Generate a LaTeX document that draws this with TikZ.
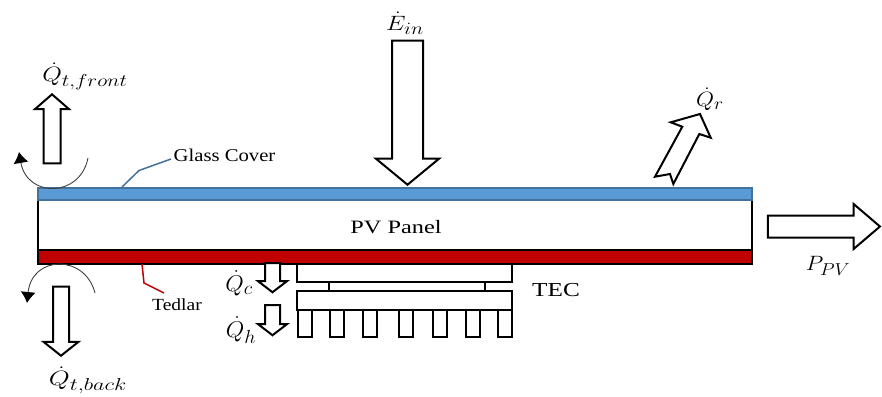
\documentclass[tikz,border=0pt]{standalone}
\usepackage{amsmath}
\usepackage{fontspec}
\setmainfont{Liberation Serif}
\usetikzlibrary{shapes.arrows,arrows.meta}
\DeclareMathSizes{20}{20}{17}{12}
\definecolor{glassblue}{RGB}{91,155,213}
\definecolor{glassedge}{RGB}{65,113,156}
\definecolor{tedlarred}{RGB}{192,0,0}
\begin{document}
\begin{tikzpicture}[x=1pt,y=-1pt,
  part node/.style={rectangle,draw,line width=2pt,inner sep=0pt},
  fin node/.style={part node,minimum width=14pt,minimum height=27pt},
  flow node/.style={single arrow,draw,fill=white,line width=2pt,text width=0pt,text height=0pt,text depth=0pt,single arrow head indent=0pt,anchor=tip},
  down node/.style={flow node,rotate=-90},
  text node/.style={font=\fontsize{18}{20}\selectfont,inner sep=0pt},
  math node/.style={font=\fontsize{20}{24}\selectfont,inner sep=0pt},
  turn/.style={line width=0.9pt,draw=black!75,-{Latex[length=11pt,width=15pt,black]}}]

  \useasboundingbox (0,0) rectangle (882,396);

  % panel layers
  \node[part node,minimum width=714pt,minimum height=50pt] (panel) at (395,225) {};
  \node[part node,fill=glassblue,draw=glassedge,minimum width=714pt,minimum height=12pt] (glass) at (395,194) {};
  \node[part node,fill=tedlarred,minimum width=714pt,minimum height=14pt] (tedlar) at (395,257) {};
  \node[text node] (pv) at (396,227) {\scalebox{1.35}[1.05]{PV Panel}};

  % TEC
  \node[part node,minimum width=215pt,minimum height=18pt] (top) at (404.5,273) {};
  \node[part node,minimum width=156pt,minimum height=9pt] (mid) at (407,286.5) {};
  \node[part node,minimum width=215pt,minimum height=19pt] (low) at (404.5,300.5) {};
  \node[fin node] (f1) at (305,323.5) {};
  \node[fin node] (f2) at (336.5,323.5) {};
  \node[fin node] (f3) at (369.5,323.5) {};
  \node[fin node] (f4) at (405.5,323.5) {};
  \node[fin node] (f5) at (440,323.5) {};
  \node[fin node] (f6) at (472.5,323.5) {};
  \node[fin node] (f7) at (505,323.5) {};
  \node[text node] (tec) at (556,290) {\scalebox{1.4}[1.1]{TEC}};

  % flows
  \node[down node,minimum height=144pt,inner sep=14.5pt,single arrow head extend=16pt,single arrow tip angle=101] (ein) at (407.5,186) {};
  \node[flow node,rotate=90,minimum height=69pt,inner sep=7.5pt,single arrow head extend=8.5pt,single arrow tip angle=98] (qfront) at (52,93) {};
  \node[down node,minimum height=69pt,inner sep=7pt,single arrow head extend=9.5pt,single arrow tip angle=103] (qback) at (61,357) {};
  \node[down node,minimum height=29pt,inner sep=6.5pt,single arrow head extend=7pt,single arrow tip angle=105] (qc) at (272.5,293.5) {};
  \node[down node,minimum height=30pt,inner sep=6.5pt,single arrow head extend=7pt,single arrow tip angle=105] (qh) at (272.5,336.5) {};
  \node[flow node,minimum height=112pt,inner sep=10pt,single arrow head extend=11.5pt,single arrow tip angle=81] (ppv) at (881.5,226.5) {};
  \draw[line width=2pt,fill=white,line join=miter] (655,176.7) -- (670,174) -- (673.3,184) -- (699.3,134) -- (710.7,137.7) -- (700,114) -- (670.7,122.3) -- (682.3,126.7) -- cycle;

  % labels
  \node[math node] (lein) at (405,23) {\scalebox{1.2}[1]{$\dot{E}_{in}$}};
  \node[math node] (lfront) at (85,76) {\scalebox{1.22}[1]{$\dot{Q}_{t,front}$}};
  \node[math node] (lback) at (88,380) {\scalebox{1.3}[1]{$\dot{Q}_{t,back}$}};
  \node[math node] (lqc) at (239,283) {\scalebox{1.15}[1.1]{$\dot{Q}_{c}$}};
  \node[math node] (lqh) at (241,330) {\scalebox{1.15}[1.1]{$\dot{Q}_{h}$}};
  \node[math node] (lqr) at (710,99) {\scalebox{1.12}[1]{$\dot{Q}_{r}$}};
  \node[math node] (lppv) at (828,266) {\scalebox{1.1}[1]{$P_{PV}$}};
  \node[text node] (lglass) at (224.5,155) {\scalebox{1.15}[1]{Glass Cover}};
  \node[text node,font=\fontsize{17}{20}\selectfont] (lted) at (177,305) {\scalebox{1.15}[1]{Tedlar}};

  % leaders
  \coordinate (g1) at (122,187);
  \coordinate (g2) at (139,170.5);
  \coordinate (g3) at (171,159);
  \coordinate (t1) at (142,264);
  \coordinate (t2) at (144,283);
  \coordinate (t3) at (164,293);
  \draw[line width=1.5pt,draw=glassedge] (g1) -- (g2) -- (g3);
  \draw[line width=1.5pt,draw=tedlarred] (t1) -- (t2) -- (t3);

  % turning arrows
  \coordinate (a1) at (88,158);
  \coordinate (a2) at (19,152);
  \coordinate (b1) at (95,293);
  \coordinate (b2) at (27,303);
  \draw[turn] (a1) .. controls (80,198) and (27,198) .. (a2);
  \draw[turn] (b1) .. controls (85,254) and (32,255) .. (b2);
\end{tikzpicture}
\end{document}
